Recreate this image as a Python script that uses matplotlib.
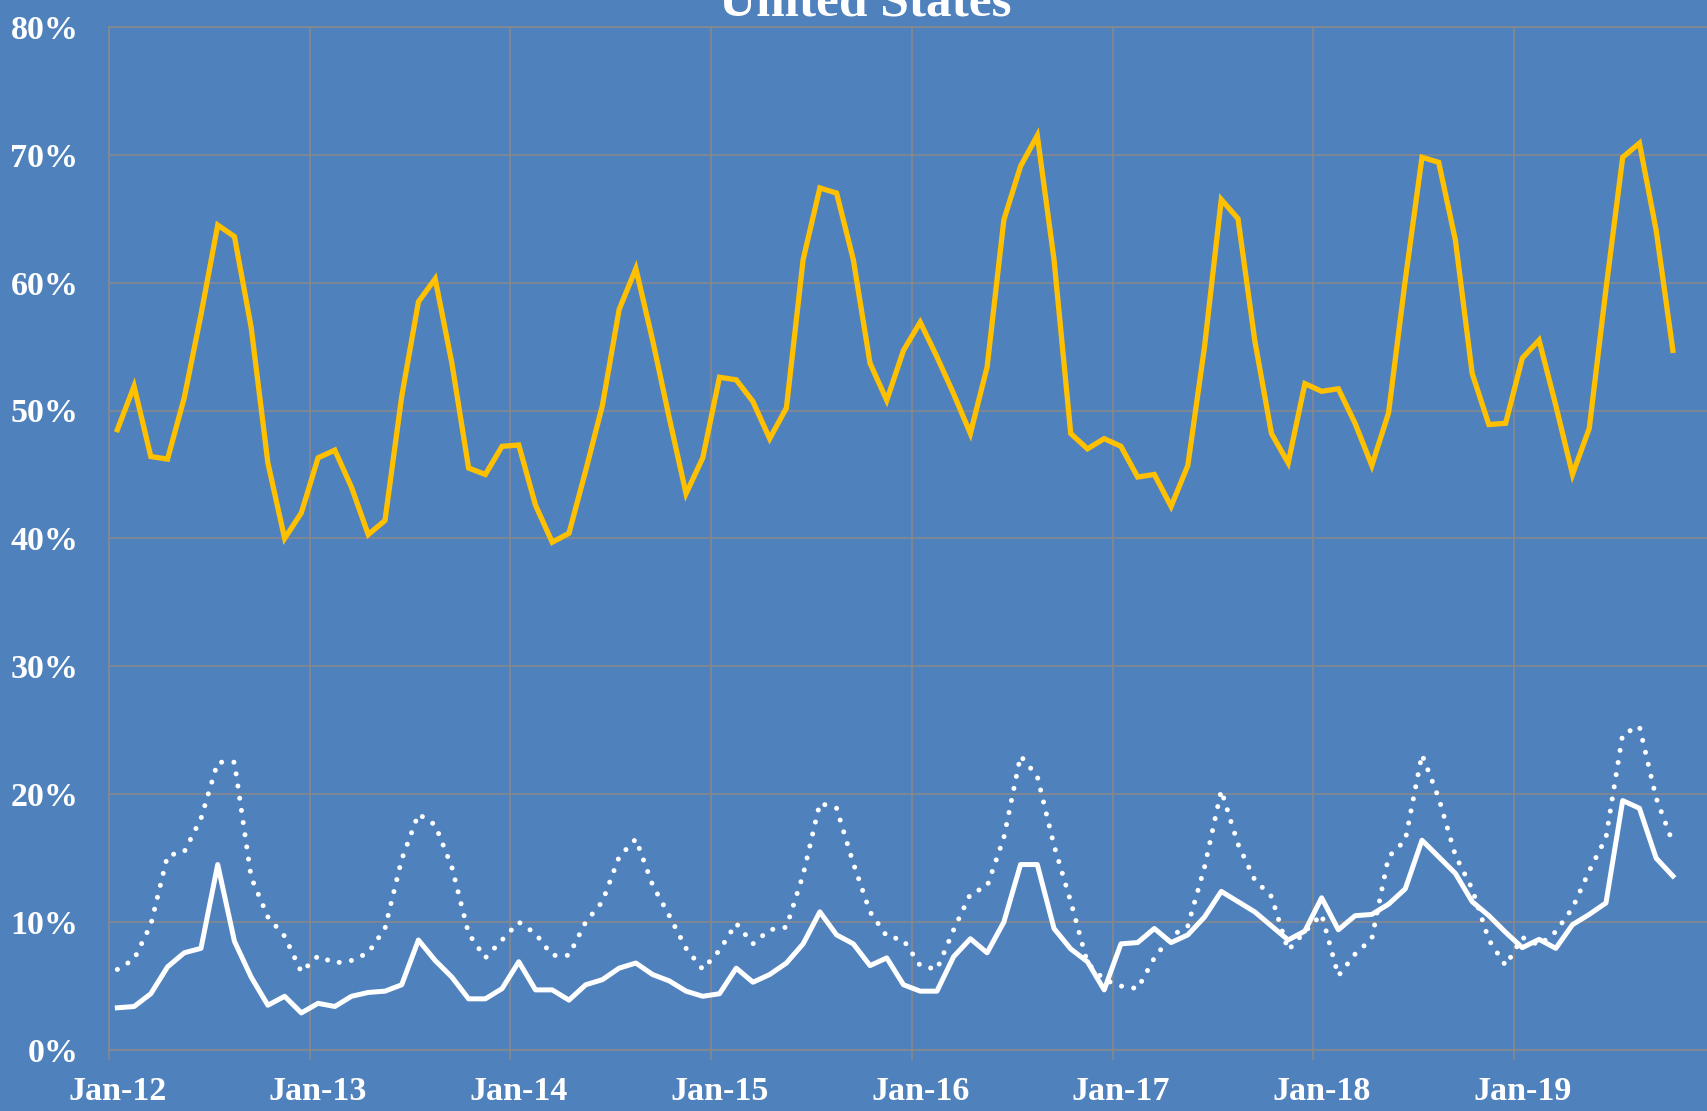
import numpy as np
import matplotlib
matplotlib.use('Agg')
import matplotlib.pyplot as plt

plt.rcParams['font.family'] = ['Liberation Serif', 'DejaVu Serif']
plt.rcParams['font.weight'] = 'bold'

# monthly values, Jan-12 .. Oct-19 (percent)
year_labels = ['Jan-12', 'Jan-13', 'Jan-14', 'Jan-15', 'Jan-16', 'Jan-17', 'Jan-18', 'Jan-19']

gold = [48.5, 51.9, 46.4, 46.2, 51.0, 57.5, 64.5, 63.6, 56.5, 45.9,
        40.0, 42.0, 46.3, 46.9, 44.0, 40.3, 41.4, 51.1, 58.5, 60.3,
        53.7, 45.5, 45.0, 47.2, 47.3, 42.6, 39.7, 40.4, 45.3, 50.4,
        57.9, 61.1, 55.5, 49.4, 43.5, 46.3, 52.6, 52.4, 50.7, 47.8,
        50.2, 61.8, 67.4, 67.0, 61.8, 53.7, 50.8, 54.7, 56.9, 54.2,
        51.3, 48.2, 53.4, 64.9, 69.1, 71.5, 61.8, 48.2, 47.0, 47.8,
        47.2, 44.8, 45.0, 42.5, 45.7, 55.0, 66.5, 65.0, 55.5, 48.2,
        45.9, 52.1, 51.5, 51.7, 49.0, 45.7, 49.8, 60.2, 69.8, 69.4,
        63.3, 52.9, 48.9, 49.0, 54.1, 55.5, 50.4, 45.0, 48.6, 59.5,
        69.8, 70.9, 64.1, 54.7]

white_solid = [3.3, 3.4, 4.4, 6.5, 7.6, 7.95, 14.5, 8.5, 5.7, 3.5,
               4.2, 2.9, 3.65, 3.4, 4.2, 4.5, 4.6, 5.1, 8.6, 7.0,
               5.7, 4.0, 4.0, 4.8, 6.9, 4.7, 4.7, 3.9, 5.1, 5.5,
               6.4, 6.8, 5.9, 5.4, 4.6, 4.2, 4.4, 6.4, 5.3, 5.9,
               6.8, 8.3, 10.8, 9.0, 8.3, 6.6, 7.2, 5.1, 4.6, 4.6,
               7.3, 8.7, 7.6, 10.0, 14.5, 14.5, 9.5, 7.9, 6.9, 4.7,
               8.3, 8.4, 9.5, 8.4, 9.0, 10.4, 12.4, 11.6, 10.8, 9.7,
               8.6, 9.3, 11.9, 9.4, 10.5, 10.6, 11.4, 12.6, 16.4, 15.1,
               13.8, 11.6, 10.5, 9.2, 8.0, 8.65, 7.95, 9.8, 10.6, 11.5,
               19.5, 18.9, 15.0, 13.6]

white_dotted = [6.3, 7.1, 9.8, 15.2, 15.5, 18.1, 22.5, 22.5, 13.5, 10.4,
                8.9, 6.1, 7.35, 6.8, 7.0, 7.6, 9.5, 14.9, 18.45, 17.6,
                14.3, 9.1, 7.2, 8.6, 10.0, 9.1, 7.4, 7.4, 10.0, 11.6,
                15.1, 16.5, 12.9, 10.5, 7.95, 6.3, 7.8, 9.9, 8.3, 9.4,
                9.6, 13.7, 19.3, 18.9, 14.6, 10.8, 8.9, 8.6, 6.6, 6.3,
                9.4, 12.2, 12.8, 16.6, 23.0, 21.4, 16.0, 11.6, 6.8, 5.5,
                5.0, 4.8, 7.2, 8.9, 9.7, 14.3, 20.3, 16.1, 13.3, 12.0,
                7.8, 9.25, 10.6, 5.8, 7.5, 8.7, 15.1, 16.4, 23.1, 19.7,
                15.2, 12.6, 8.6, 6.6, 8.8, 8.2, 9.25, 11.1, 14.0, 16.6,
                24.7, 25.3, 19.7, 16.2]

bg = '#4F81BD'
grid_col = '#8a8a8a'

fig = plt.figure(figsize=(17.08, 11.11), dpi=100)
fig.patch.set_facecolor(bg)
ax = fig.add_axes([109/1708, 61/1111, 1 - 109/1708, (1050 - 26.8)/1111])
ax.set_facecolor(bg)

x = np.arange(len(gold)) + 0.5   # points sit in the middle of each month

ax.plot(x, gold, color='#FFC000', lw=3.8, solid_joinstyle='miter', zorder=3)
ax.plot(x, white_dotted, color='white', lw=3.6, linestyle=(0, (0.01, 2.45)),
        dash_capstyle='round', zorder=3)
ax.plot(x, white_solid, color='white', lw=3.6, zorder=4)

ax.set_xlim(0, 95.6)
ax.set_ylim(0, 80)

# gridlines on year boundaries, labels centred on January
ax.set_xticks(np.arange(0, 96, 12))
ax.set_xticklabels([])
ax.set_xticks(np.arange(0, 96, 12) + 0.5, minor=True)
ax.set_xticklabels(year_labels, minor=True)
ax.set_yticks(np.arange(0, 81, 10))
ax.set_yticklabels([f'{v}%' for v in range(0, 81, 10)])

ax.tick_params(axis='x', which='major', length=7.5, width=1.1, color=grid_col, direction='out')
ax.tick_params(axis='x', which='minor', length=0, pad=19, labelsize=24.5, labelcolor='white')
ax.tick_params(axis='y', length=0, pad=22, labelsize=24.5, labelcolor='white')

ax.grid(True, which='major', color=grid_col, lw=1.1)
ax.set_axisbelow(True)
for side in ['left', 'bottom', 'top']:
    ax.spines[side].set_color(grid_col)
    ax.spines[side].set_linewidth(1.1)
ax.spines['right'].set_visible(False)

# title sits partly above the top edge, as in the source chart
fig.text(865/1708, 1 - 15/1111, 'United States', ha='center', va='baseline',
         fontsize=37, color='white', fontweight='bold')

fig.savefig('out.png', dpi=100, facecolor=bg)
